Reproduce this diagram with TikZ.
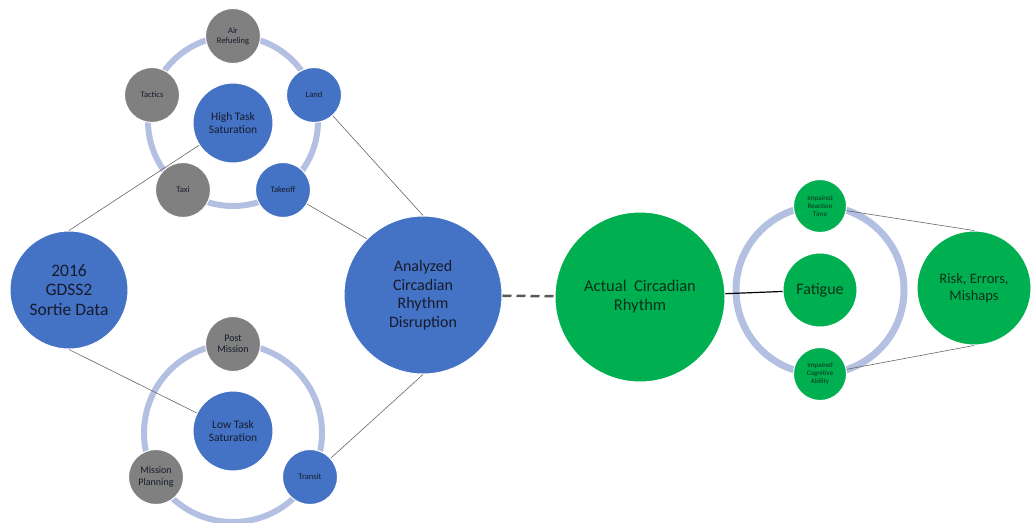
\documentclass[tikz,border=0pt]{standalone}
\usepackage{fontspec}
\setmainfont{Carlito}
\definecolor{officeblue}{RGB}{68,114,196}
\definecolor{officegrey}{RGB}{128,128,128}
\definecolor{officegreen}{RGB}{0,176,80}
\definecolor{ringblue}{RGB}{180,192,226}
\definecolor{darktext}{RGB}{22,28,44}
\definecolor{greentext}{RGB}{12,48,26}

\begin{document}
\begin{tikzpicture}[x=1pt, y=-1pt,
                    every node/.style={circle, inner sep=0pt, align=center, text=darktext, draw=white, line width=1pt},
                    blue_node/.style={fill=officeblue},
                    grey_node/.style={fill=officegrey},
                    green_node/.style={fill=officegreen, text=greentext},
                    big_text/.style={font=\fontsize{16}{18.5}\selectfont},
                    mid_text/.style={font=\fontsize{11.5}{13}\selectfont},
                    small_text/.style={font=\fontsize{8.5}{10}\selectfont},
                    tiny_text/.style={font=\fontsize{7}{8}\selectfont},
                    ring_style/.style={draw=ringblue, line width=6pt},
                    edge_style/.style={draw=black!60, line width=0.6pt}]
                    \useasboundingbox (0,0) rectangle (1032,522);
                    % rings behind the task circles
                    \draw[ring_style] (233,121) circle [radius=85pt];
                    \draw[ring_style] (233,433) circle [radius=89pt];
                    \draw[ring_style, line width=7pt] (820,290) circle [radius=84pt];
                    % main chain
                    \node[blue_node, font=\fontsize{17.5}{19.5}\selectfont, minimum size=118pt] (gdss) at (69,290) {2016\\GDSS2\\Sortie Data};
                    \node[blue_node, big_text, minimum size=158pt] (acrd) at (423,295) {Analyzed\\Circadian\\Rhythm\\Disruption};
                    \node[green_node, font=\fontsize{16.5}{19}\selectfont, minimum size=170pt] (actual) at (640,297) {Actual~~Circadian\\Rhythm};
                    \node[green_node, big_text, minimum size=74pt] (fatigue) at (820,290) {Fatigue};
                    \node[green_node, font=\fontsize{14.5}{17}\selectfont, minimum size=114pt] (risk) at (974,288) {Risk,~Errors,\\Mishaps};
                    % high task saturation
                    \node[blue_node, mid_text, minimum size=80pt] (hts) at (233,123) {High Task\\Saturation};
                    \node[grey_node, small_text, minimum size=55pt] (air) at (233,36) {Air\\Refueling};
                    \node[blue_node, small_text, minimum size=55pt] (land) at (314,95) {Land};
                    \node[blue_node, small_text, minimum size=55pt] (takeoff) at (283,190) {Takeoff};
                    \node[grey_node, small_text, minimum size=55pt] (taxi) at (183,190) {Taxi};
                    \node[grey_node, small_text, minimum size=55pt] (tactics) at (152,95) {Tactics};
                    % low task saturation
                    \node[blue_node, mid_text, minimum size=80pt] (lts) at (233,431) {Low Task\\Saturation};
                    \node[grey_node, font=\fontsize{10}{11.5}\selectfont, minimum size=55pt] (post) at (233,344) {Post\\Mission};
                    \node[grey_node, font=\fontsize{10}{11.5}\selectfont, minimum size=55pt] (planning) at (156,477) {Mission\\Planning};
                    \node[blue_node, small_text, minimum size=55pt] (transit) at (310,477) {Transit};
                    % fatigue effects
                    \node[green_node, tiny_text, minimum size=53pt] (irt) at (820,206) {Impaired\\Reaction\\Time};
                    \node[green_node, tiny_text, minimum size=53pt] (ica) at (820,374) {Impaired\\Cognitive\\Ability};
                    % connectors
                    \draw[edge_style] (gdss.north) -- (hts);
                    \draw[edge_style] (gdss.south) -- (lts);
                    \draw[edge_style] (land) -- (acrd.north);
                    \draw[edge_style] (takeoff) -- (acrd.135);
                    \draw[edge_style] (transit) -- (acrd.south);
                    \draw[draw=black!65, line width=2.5pt, dash pattern=on 9pt off 5pt] (acrd) -- (actual);
                    \draw[draw=black, line width=1.2pt] (actual) -- (fatigue);
                    \draw[edge_style] (irt.-10) -- (risk.north);
                    \draw[edge_style] (ica.10) -- (risk.south);
                \end{tikzpicture}
\end{document}
